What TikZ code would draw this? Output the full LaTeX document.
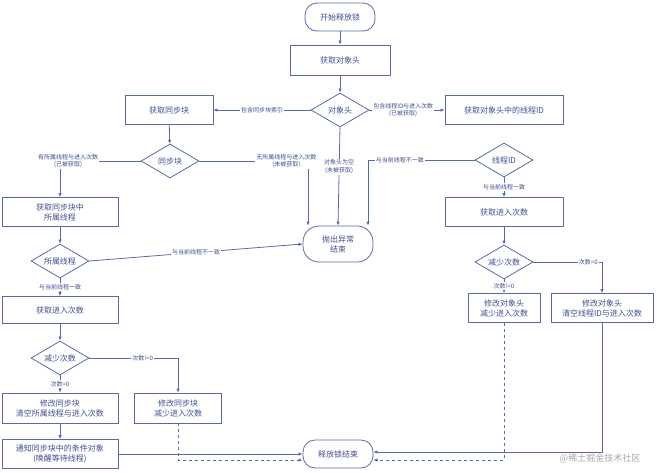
\documentclass[tikz,border=0pt]{standalone}
\usepackage{fontspec}
\setmainfont{Noto Sans CJK SC}
\usetikzlibrary{shapes.geometric,arrows.meta}
\definecolor{ln}{HTML}{5A6AA8}
\definecolor{tx}{HTML}{3F4F8F}
\begin{document}
\begin{tikzpicture}[x=1pt,y=-1pt,
 box/.style={draw=ln,thick,rectangle,text=tx,font=\fontsize{8}{10}\selectfont,align=center,inner sep=0pt},
 pill/.style={draw=ln,thick,rounded corners=12pt,text=tx,font=\fontsize{8}{10}\selectfont,align=center,inner sep=0pt,minimum width=70pt},
 dia/.style={draw=ln,thick,diamond,aspect=1.75,text=tx,font=\fontsize{8}{9}\selectfont,inner sep=1pt,minimum width=58pt,minimum height=34pt},
 lab/.style={fill=white,text=tx,font=\fontsize{6}{7.5}\selectfont,align=center,inner sep=1pt},
 ar/.style={draw=ln,thick,-{Latex[length=4pt,width=3.5pt]}},
]
\useasboundingbox (0,0) rectangle (657,472);
\node[pill,minimum height=28pt] (start) at (340,17) {开始释放锁};
\node[box,minimum width=100pt,minimum height=30pt] (gh) at (340,60) {获取对象头};
\node[dia] (oh) at (340,110) {对象头};
\node[box,minimum width=88pt,minimum height=29pt] (gs) at (169,110) {获取同步块};
\node[dia] (sb) at (170,161) {同步块};
\node[box,minimum width=116pt,minimum height=29pt] (go) at (60,212) {获取同步块中\\所属线程};
\node[dia] (ow) at (60,261) {所属线程};
\node[box,minimum width=116pt,minimum height=27pt] (gc) at (60,310) {获取进入次数};
\node[dia] (dc) at (60,358) {减少次数};
\node[box,minimum width=116pt,minimum height=30pt] (ms) at (60,408) {修改同步块\\清空所属线程与进入次数};
\node[box,minimum width=116pt,minimum height=29pt] (nt) at (60,454) {通知同步块中的条件对象\\(唤醒等待线程)};
\node[box,minimum width=87pt,minimum height=30pt] (ms2) at (178,408) {修改同步块\\减少进入次数};
\node[pill,minimum height=36pt,rounded corners=16pt] (th) at (338,244) {抛出异常\\结束};
\node[pill,minimum height=28pt] (rl) at (338,454) {释放锁结束};
\node[box,minimum width=118pt,minimum height=29pt] (gt) at (504,110) {获取对象头中的线程ID};
\node[dia] (ti) at (504,160) {线程ID};
\node[box,minimum width=118pt,minimum height=29pt] (gr) at (504,212) {获取进入次数};
\node[dia] (dr) at (504,262) {减少次数};
\node[box,minimum width=72pt,minimum height=29pt] (mh) at (504,308) {修改对象头\\减少进入次数};
\node[box,minimum width=102pt,minimum height=29pt] (mh2) at (602,308) {修改对象头\\清空线程ID与进入次数};

\draw[ar] (start) -- (gh);
\draw[ar] (gh) -- (oh);
\draw[ar] (oh.west) -- node[lab]{包含同步块索引} (gs.east);
\draw[ar] (oh.east) -- node[lab,pos=0.45]{包含线程ID与进入次数\\(已被获取)} (gt.west);
\draw[ar] (oh.south) -- node[lab,pos=0.4]{对象头为空\\(未被获取)} (th.north);
\draw[ar] (gs) -- (sb);
\draw[ar] (sb.west) -| node[lab,pos=0.45]{有所属线程与进入次数\\(已被获取)} (go.north);
\draw[ar] (sb.east) -| node[lab,pos=0.4]{无所属线程与进入次数\\(未被获取)} ([xshift=-30pt]th.north);
\draw[ar] (ti.west) -| node[lab,pos=0.35]{与当前线程不一致} ([xshift=30pt]th.north);
\draw[ar] (ti) -- node[lab]{与当前线程一致} (gr);
\draw[ar] (go) -- (ow);
\draw[ar] (ow.east) -- node[lab]{与当前线程不一致} (th.west);
\draw[ar] (ow) -- node[lab]{与当前线程一致} (gc);
\draw[ar] (gc) -- (dc);
\draw[ar] (dc) -- node[lab]{次数=0} (ms);
\draw[ar] (dc.east) -| node[lab,pos=0.3]{次数!=0} (ms2.north);
\draw[ar] (ms) -- (nt);
\draw[ar] (nt.east) -- (rl.west);
\draw[ar,dashed] (ms2.south) |- ([yshift=-6pt]rl.west);
\draw[ar] (gr) -- (dr);
\draw[ar] (dr) -- node[lab]{次数!=0} (mh);
\draw[ar] (dr.east) -| node[lab,pos=0.4]{次数=0} (mh2.north);
\draw[ar,dashed] (mh.south) |- ([yshift=-6pt]rl.east);
\draw[ar] (mh2.south) |- ([yshift=2pt]rl.east);
\node[text=gray!70,font=\fontsize{9}{10}\selectfont] (wm) at (600,458) {@稀土掘金技术社区};
\end{tikzpicture}
\end{document}
